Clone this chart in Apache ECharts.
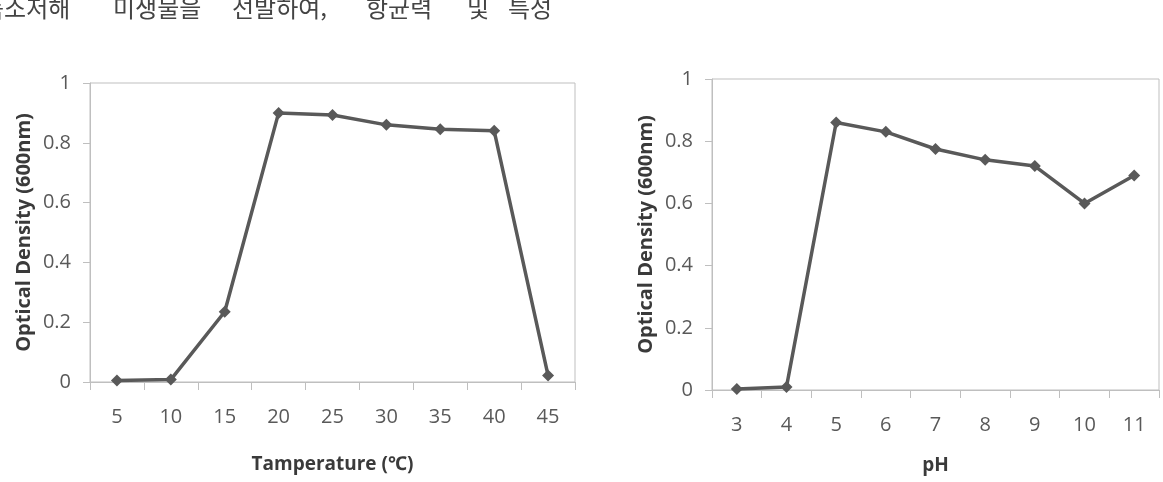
<!DOCTYPE html>
<html lang="ko">
<head>
<meta charset="utf-8">
<title>Optical density vs temperature and pH</title>
<script src="https://cdn.jsdelivr.net/npm/echarts@6/dist/echarts.min.js"></script>
<style>
  html, body { margin: 0; padding: 0; background: #fff; }
  #chart { width: 1163px; height: 482px; }
</style>
</head>
<body>
<div id="chart"></div>
<script>
// data
const tempCategories = ['5', '10', '15', '20', '25', '30', '35', '40', '45'];
const tempOD = [0.005, 0.008, 0.235, 0.9, 0.893, 0.86, 0.845, 0.84, 0.022];

const phCategories = ['3', '4', '5', '6', '7', '8', '9', '10', '11'];
const phOD = [0.003, 0.01, 0.86, 0.83, 0.775, 0.74, 0.72, 0.6, 0.69];

const yTicks = [0, 0.2, 0.4, 0.6, 0.8, 1];

// cut-off line of the document text above the figures
const captionWords = ['독소저해', '미생물을', '선발하여,', '항균력', '및', '특성'];
const captionX = [-18, 113, 232, 366, 467, 508];

const labelColor = '#595959';
const lineColor = '#595959';
const axisColor = '#bfbfbf';
const font = '"Open Sans", "Noto Sans", sans-serif';

function xAxisFor(gridIndex, cats, name, nameGap) {
  return {
    type: 'category',
    gridIndex: gridIndex,
    data: cats,
    boundaryGap: true,
    name: name,
    nameLocation: 'middle',
    nameGap: nameGap,
    nameTextStyle: { color: '#3a3a3a', fontSize: 19, fontWeight: 'bold', fontFamily: font },
    axisLine: { lineStyle: { color: axisColor, width: 1 } },
    axisTick: { show: true, length: 8, lineStyle: { color: axisColor } },
    axisLabel: { color: labelColor, fontSize: 20, fontFamily: font, margin: 25 },
    splitLine: { show: false }
  };
}

function yAxisFor(gridIndex) {
  return {
    type: 'value',
    gridIndex: gridIndex,
    min: yTicks[0],
    max: yTicks[yTicks.length - 1],
    interval: 0.2,
    name: 'Optical Density (600nm)',
    nameLocation: 'middle',
    nameGap: 56,
    nameTextStyle: { color: '#3a3a3a', fontSize: 20, fontWeight: 'bold', fontFamily: font },
    axisLine: { show: true, lineStyle: { color: axisColor, width: 1 } },
    axisTick: { show: true, length: 7, lineStyle: { color: axisColor } },
    axisLabel: { color: labelColor, fontSize: 20, fontFamily: font, margin: 19 },
    splitLine: { show: false }
  };
}

function seriesFor(index, values) {
  return {
    type: 'line',
    xAxisIndex: index,
    yAxisIndex: index,
    data: values,
    symbol: 'diamond',
    symbolSize: 12,
    lineStyle: { color: lineColor, width: 3.5 },
    itemStyle: { color: lineColor },
    animation: false
  };
}

const chart = echarts.init(document.getElementById('chart'), null, { renderer: 'canvas' });

chart.setOption({
  backgroundColor: '#ffffff',
  animation: false,
  graphic: captionWords.map(function (w, i) {
    return {
      type: 'text',
      x: captionX[i],
      y: 8,
      style: {
        text: w,
        fontSize: 24,
        fontFamily: '"Noto Sans CJK KR", sans-serif',
        fill: '#444444',
        verticalAlign: 'middle'
      }
    };
  }),
  grid: [
    { left: 90, top: 83, width: 485, height: 299, show: true, borderColor: axisColor, borderWidth: 1, containLabel: false },
    { left: 712, top: 79, width: 447, height: 311, show: true, borderColor: axisColor, borderWidth: 1, containLabel: false }
  ],
  xAxis: [
    xAxisFor(0, tempCategories, 'Tamperature (℃)', 73),
    xAxisFor(1, phCategories, 'pH', 66)
  ],
  yAxis: [yAxisFor(0), yAxisFor(1)],
  series: [seriesFor(0, tempOD), seriesFor(1, phOD)]
});
</script>
</body>
</html>
